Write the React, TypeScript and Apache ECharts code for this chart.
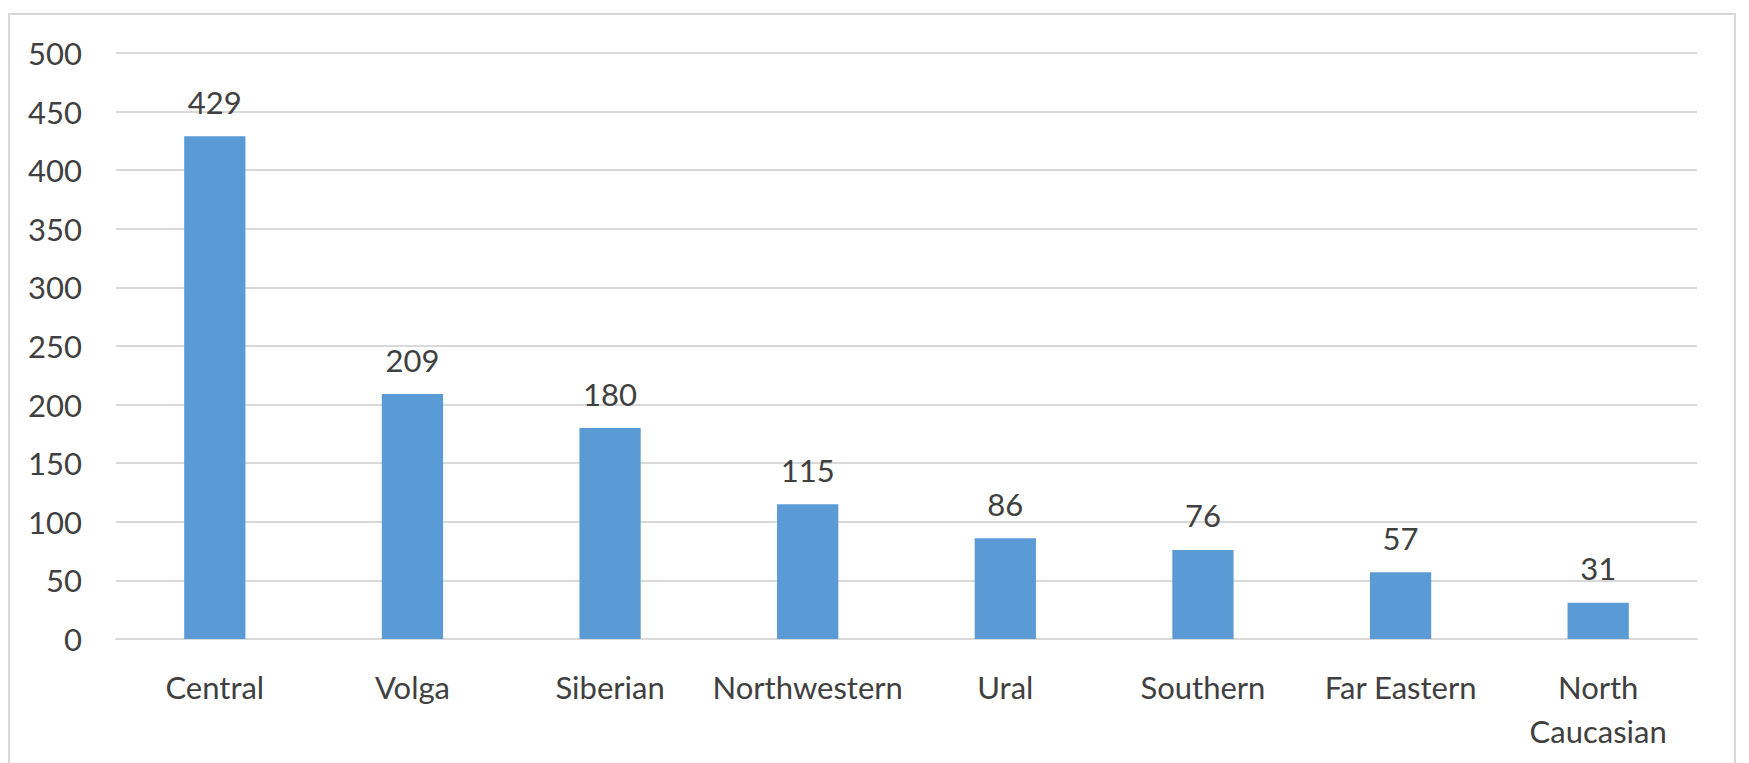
import React, { useEffect, useRef } from "react";
import * as echarts from "echarts";

const categories = ["Central", "Volga", "Siberian", "Northwestern", "Ural", "Southern", "Far Eastern", "North\nCaucasian"];
const values = [429, 209, 180, 115, 86, 76, 57, 31];
const yMin = 0;
const yMax = 500;
const yInterval = 50;

export default function App() {
  const ref = useRef<HTMLDivElement>(null);
  useEffect(() => {
    const chart = echarts.init(ref.current!, null, { renderer: "svg" });
    const font = "Lato, 'Open Sans', sans-serif";
    chart.setOption({
      animation: false,
      backgroundColor: "#ffffff",
      textStyle: { fontFamily: font },
      graphic: [
        {
          type: "rect",
          shape: { x: 9, y: 14, width: 1726, height: 800 },
          style: { fill: "none", stroke: "#d9d9d9", lineWidth: 2 },
          silent: true,
        },
      ],
      grid: { left: 116, right: 52, top: 53, bottom: 124 },
      xAxis: {
        type: "category",
        data: categories,
        axisLine: { show: true, lineStyle: { color: "#d9d9d9", width: 2 } },
        axisTick: { show: false },
        axisLabel: {
          color: "#404040",
          fontSize: 31,
          fontFamily: font,
          margin: 26,
          lineHeight: 44,
          interval: 0,
        },
      },
      yAxis: {
        type: "value",
        min: yMin,
        max: yMax,
        interval: yInterval,
        axisLine: { show: false },
        axisTick: { show: false },
        splitLine: { lineStyle: { color: "#d9d9d9", width: 2 } },
        axisLabel: { color: "#404040", fontSize: 31, fontFamily: font, margin: 34 },
      },
      series: [
        {
          type: "bar",
          data: values,
          barWidth: "31%",
          itemStyle: { color: "#5b9bd5" },
          label: {
            show: true,
            position: "top",
            distance: 19,
            color: "#404040",
            fontSize: 31,
            fontFamily: font,
          },
        },
      ],
    });
    return () => chart.dispose();
  }, []);
  return (
    <div
      ref={ref}
      style={{ position: "absolute", left: 0, top: 0, width: 1749, height: 763 }}
    />
  );
}
